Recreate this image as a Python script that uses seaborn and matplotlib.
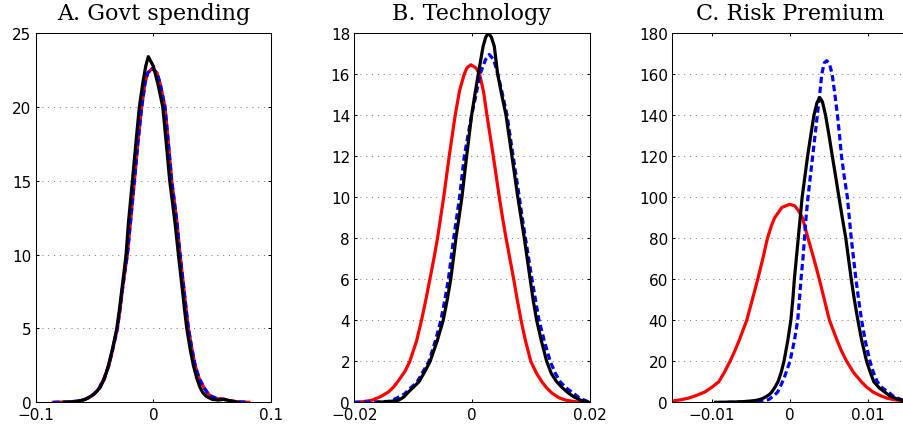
import matplotlib
matplotlib.use('Agg')
import matplotlib.pyplot as plt
import seaborn as sns

# ---- A. Govt spending (densities) ----
gov_red_x = [-0.085, -0.072, -0.062, -0.058, -0.054, -0.05, -0.0465, -0.042, -0.0378, -0.0345,
             -0.0306, -0.0285, -0.0265, -0.0243, -0.0221, -0.0195, -0.0161, -0.013, -0.0099, -0.0071,
             -0.0048, -0.001, 0.0031, 0.0057, 0.0099, 0.0128, 0.0156, 0.0201, 0.0227, 0.0245,
             0.0262, 0.028, 0.0298, 0.0328, 0.0355, 0.039, 0.043, 0.0455, 0.048, 0.054,
             0.06, 0.065, 0.072, 0.081]
gov_red_y = [0, 0.02, 0.1, 0.2, 0.35, 0.6, 0.9, 1.6, 2.5, 3.6,
             5, 6.2, 7.5, 8.8, 10, 12.15, 15, 17.7, 20, 21.6,
             22.3, 22.6, 22.3, 21.6, 20, 17.5, 15, 12.15, 10, 8.7,
             7.5, 6.2, 5, 3.6, 2.5, 1.6, 1.0, 0.7, 0.45, 0.25,
             0.2, 0.1, 0.03, 0]
gov_blue_x = list(gov_red_x)
gov_blue_y = list(gov_red_y)
gov_black_x = [-0.076, -0.065, -0.058, -0.052, -0.0485, -0.0453, -0.0415, -0.0382, -0.0348, -0.0311,
               -0.029, -0.027, -0.025, -0.0232, -0.0212, -0.0178, -0.0148, -0.0119, -0.009, -0.0065,
               -0.0043, 0.0, 0.0037, 0.008, 0.011, 0.0139, 0.0184, 0.0213, 0.0231, 0.0248,
               0.0266, 0.0284, 0.0315, 0.034, 0.037, 0.0397, 0.042, 0.045, 0.05, 0.055,
               0.06, 0.065, 0.072]
gov_black_y = [0, 0.05, 0.2, 0.45, 0.7, 1.0, 1.6, 2.5, 3.6, 5,
               6.2, 7.5, 8.8, 10, 12.15, 15, 17.6, 20, 21.6, 22.75,
               23.4, 22.75, 21.6, 20, 17.5, 15, 12.15, 10, 8.7, 7.5,
               6.2, 5, 3.5, 2.5, 1.6, 1.0, 0.65, 0.4, 0.2, 0.15,
               0.2, 0.1, 0]

# ---- B. Technology ----
tech_red_x = [-0.020, -0.0188, -0.017, -0.0155, -0.0142, -0.0133, -0.0125, -0.0114, -0.01055, -0.0094,
              -0.00857, -0.00783, -0.00715, -0.00647, -0.00585, -0.0048, -0.00386, -0.00284, -0.0021, -0.0013,
              -0.00085, -0.0002, 0.00068, 0.0013, 0.0020, 0.00255, 0.00363, 0.00465, 0.0052, 0.0058,
              0.00645, 0.0071, 0.0077, 0.00835, 0.0091, 0.0100, 0.0110, 0.0119, 0.0127, 0.0136,
              0.0148, 0.016, 0.0175, 0.0192]
tech_red_y = [0, 0.02, 0.1, 0.28, 0.5, 0.75, 1.05, 1.5, 2, 3,
              4, 5, 6, 7, 8, 10, 12, 14, 15.2, 16,
              16.3, 16.45, 16.3, 16, 15.1, 14, 12, 10, 9, 8,
              7, 6, 5, 4, 3, 2, 1.4, 1.0, 0.7, 0.45,
              0.22, 0.1, 0.03, 0]
tech_blue_x = [-0.020, -0.016, -0.014, -0.0128, -0.0115, -0.0104, -0.0093, -0.0083, -0.0073, -0.0062,
               -0.00528, -0.0046, -0.0040, -0.00355, -0.0031, -0.0026, -0.0021, -0.0013, -0.00005, 0.0007,
               0.0014, 0.0023, 0.00295, 0.0037, 0.0044, 0.0052, 0.00596, 0.0070, 0.00805, 0.00855,
               0.0091, 0.00965, 0.0102, 0.0108, 0.0114, 0.0123, 0.0133, 0.0142, 0.0150, 0.0160,
               0.0170, 0.0183, 0.0200]
tech_blue_y = [0, 0.02, 0.05, 0.2, 0.4, 0.7, 1.0, 1.5, 2, 3,
               4, 5, 6, 7, 8, 9, 10, 12, 14, 15,
               16, 16.7, 16.95, 16.7, 16, 15, 14, 12, 10, 9,
               8, 7, 6, 5, 4, 3, 2, 1.4, 1.0, 0.7,
               0.5, 0.2, 0]
tech_black_x = [-0.016, -0.014, -0.0125, -0.0116, -0.0108, -0.0099, -0.0090, -0.0080, -0.0071, -0.0059,
                -0.00488, -0.0042, -0.0036, -0.00315, -0.00272, -0.0022, -0.0017, -0.0009, -0.00005, 0.0005,
                0.00108, 0.0019, 0.00235, 0.0028, 0.0033, 0.0038, 0.00437, 0.00505, 0.00579, 0.0068,
                0.0078, 0.00835, 0.0089, 0.0094, 0.0099, 0.0104, 0.0110, 0.0118, 0.0127, 0.0135,
                0.0144, 0.0154, 0.0164, 0.0174, 0.0185, 0.0198]
tech_black_y = [0, 0.04, 0.1, 0.25, 0.5, 0.75, 1.0, 1.5, 2, 3,
                4, 5, 6, 7, 8, 9, 10, 12, 14, 15,
                16, 17.35, 17.8, 18.0, 17.8, 17.35, 16, 15, 14, 12,
                10, 9, 8, 7, 6, 5, 4, 3, 2, 1.4,
                1.0, 0.7, 0.45, 0.25, 0.1, 0]

# ---- C. Risk Premium ----
risk_red_x = [-0.0151, -0.014, -0.013, -0.012, -0.0109, -0.0100, -0.0091, -0.0084, -0.00765, -0.00705,
              -0.0065, -0.00551, -0.0048, -0.0041, -0.00345, -0.00285, -0.00235, -0.00192, -0.001, 0.0,
              0.00064, 0.0011, 0.00163, 0.00235, 0.0031, 0.0038, 0.00445, 0.0051, 0.0061, 0.00665,
              0.00731, 0.0082, 0.0092, 0.0099, 0.0107, 0.0116, 0.0125, 0.0135, 0.0144, 0.0151]
risk_red_y = [0.6, 1.2, 2, 3.3, 5, 7.3, 10, 14.5, 20, 25,
              30, 40, 50, 60, 70, 80, 86, 90, 95, 96.5,
              95.8, 93.5, 90, 80, 70, 60, 50, 40, 30, 25,
              20, 14.5, 10, 7.3, 5, 3.3, 2, 1.2, 0.8, 0.5]
risk_blue_x = [-0.008, -0.0065, -0.005, -0.0036, -0.0027, -0.0021, -0.00154, -0.0011, -0.0007, 0.00004,
               0.0006, 0.00103, 0.00125, 0.00145, 0.0017, 0.0019, 0.0021, 0.00235, 0.00265, 0.00295,
               0.00325, 0.00355, 0.00385, 0.00412, 0.00445, 0.00475, 0.0051, 0.00545, 0.0058, 0.00613,
               0.0064, 0.00665, 0.0070, 0.0074, 0.00765, 0.0079, 0.0082, 0.0085, 0.00885, 0.00923,
               0.0097, 0.0103, 0.01075, 0.01124, 0.0119, 0.01265, 0.0133, 0.0139, 0.0145, 0.0151]
risk_blue_y = [0, 0.1, 0.3, 0.8, 1.3, 3, 5, 8.5, 12, 20,
               30, 40, 50, 60, 70, 80, 90, 100, 110, 120,
               130, 140, 150, 160, 165.5, 166.5, 165, 160, 150, 140,
               130, 120, 110, 100, 90, 80, 70, 60, 50, 40,
               30, 20, 14.5, 10, 7, 5, 3, 2, 1.0, 0.5]
risk_black_x = [-0.0095, -0.0075, -0.006, -0.0045, -0.0039, -0.0034, -0.003, -0.0026, -0.0023, -0.0019,
                -0.0015, -0.0011, -0.00073, -0.00025, 0.00015, 0.0004, 0.0006, 0.00085, 0.0011, 0.00135,
                0.0016, 0.00195, 0.0023, 0.0027, 0.00312, 0.0035, 0.00385, 0.0042, 0.0046, 0.00505,
                0.00547, 0.0059, 0.00632, 0.00675, 0.0072, 0.00755, 0.0079, 0.0083, 0.00875, 0.00925,
                0.00987, 0.01035, 0.0108, 0.0115, 0.0122, 0.0127, 0.0132, 0.0138, 0.0144, 0.0151]
risk_black_y = [0, 0.1, 0.3, 0.8, 1.3, 2, 2.8, 3.8, 5, 7.3,
                10, 14.5, 20, 30, 40, 50, 60, 70, 80, 90,
                100, 110, 120, 130, 140, 146, 148.6, 146.5, 140, 130,
                120, 110, 100, 90, 80, 70, 60, 50, 40, 30,
                20, 14.5, 10, 7, 5, 3.5, 2.5, 1.6, 1.0, 0.5]

titles = ['A. Govt spending', 'B. Technology', 'C. Risk Premium']
xlims = [(-0.1, 0.1), (-0.02, 0.02), (-0.0151, 0.0151)]
xticks = [[-0.1, 0, 0.1], [-0.02, 0, 0.02], [-0.01, 0, 0.01]]
xtick_labels = [['\u22120.1', '0', '0.1'], ['\u22120.02', '0', '0.02'], ['\u22120.01', '0', '0.01']]
yticks = [list(range(0, 26, 5)), list(range(0, 19, 2)), list(range(0, 181, 20))]

panels = [
    ((gov_red_x, gov_red_y), (gov_blue_x, gov_blue_y), (gov_black_x, gov_black_y)),
    ((tech_red_x, tech_red_y), (tech_blue_x, tech_blue_y), (tech_black_x, tech_black_y)),
    ((risk_red_x, risk_red_y), (risk_blue_x, risk_blue_y), (risk_black_x, risk_black_y)),
]

plt.rcParams['font.family'] = ['DejaVu Sans']
plt.rcParams['axes.linewidth'] = 0.75

fig = plt.figure(figsize=(9.04, 4.31), dpi=100)
lefts = [0.0395, 0.3919, 0.7434]

for i, (red, blue, black) in enumerate(panels):
    ax = fig.add_axes([lefts[i], 0.0643, 0.2603, 0.8568])
    sns.lineplot(x=red[0], y=red[1], ax=ax, color='red', linewidth=2.3, sort=False)
    sns.lineplot(x=blue[0], y=blue[1], ax=ax, color='blue', linewidth=2.3, sort=False,
                 linestyle=(0, (2.0, 1.1)))
    sns.lineplot(x=black[0], y=black[1], ax=ax, color='black', linewidth=2.3, sort=False)

    ax.set_xlim(*xlims[i])
    ax.set_ylim(0, yticks[i][-1])
    ax.set_xticks(xticks[i])
    ax.set_xticklabels(xtick_labels[i])
    ax.set_yticks(yticks[i])
    ax.set_yticklabels([str(v) for v in yticks[i]])
    ax.set_xlabel('')
    ax.set_ylabel('')
    ax.tick_params(direction='in', top=True, right=True, length=2.5, width=0.75,
                   labelsize=11, colors='black')
    ax.tick_params(axis='x', pad=3.6)
    ax.tick_params(axis='y', pad=3)
    ax.yaxis.grid(True, linestyle=(0, (1, 4.6)), color='0.5', linewidth=0.75)
    ax.xaxis.grid(False)
    ax.set_axisbelow(True)
    for s in ax.spines.values():
        s.set_color('black')
    ax.set_title(titles[i], family='DejaVu Serif', fontsize=16, pad=10)

fig.savefig('out.png', dpi=100)
